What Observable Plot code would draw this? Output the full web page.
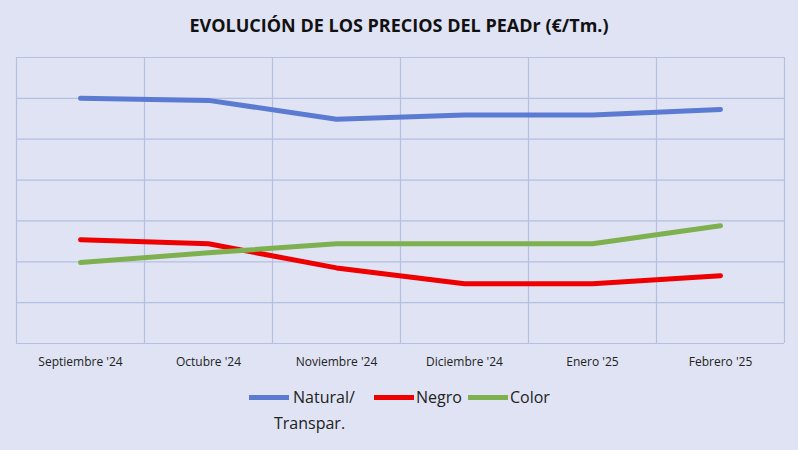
<!DOCTYPE html>
<html><head><meta charset="utf-8">
<script src="https://cdn.jsdelivr.net/npm/d3@7"></script>
<script src="https://cdn.jsdelivr.net/npm/@observablehq/plot@0.6"></script>
<style>
body{margin:0;background:#dfe3f3;font-family:"Open Sans",sans-serif;width:798px;height:450px;overflow:hidden;position:relative}
#title{height:45px;line-height:50px;text-align:center;font-weight:bold;font-size:18px;color:#111}
.leg{position:absolute;font-size:16px;color:#222}
.sw{position:absolute;height:5px;width:40px}
</style></head><body>
<div id="title">EVOLUCIÓN DE LOS PRECIOS DEL PEADr (€/Tm.)</div>
<div id="chart"></div>
<div class="sw" style="left:249px;top:395px;background:#5b7bd3"></div>
<div class="leg" style="left:293px;top:386px">Natural/</div>
<div class="leg" style="left:274px;top:412px">Transpar.</div>
<div class="sw" style="left:374px;top:395px;background:#ee0000"></div>
<div class="sw" style="left:468px;top:395px;background:#7fb04f"></div>
<div class="leg" style="left:416px;top:386px">Negro</div>
<div class="leg" style="left:510px;top:386px">Color</div>
<script>
const months=["Septiembre '24","Octubre '24","Noviembre '24","Diciembre '24","Enero '25","Febrero '25"];
const natural=[6.0,5.95,5.49,5.59,5.59,5.73];
const negro=[2.54,2.44,1.85,1.46,1.46,1.66];
const color=[1.98,2.22,2.44,2.44,2.44,2.88];
const series=[["Natural/Transpar.",natural,"#5b7bd3"],["Negro",negro,"#ee0000"],["Color",color,"#7fb04f"]];
const data=series.flatMap(([name,vals])=>vals.map((v,i)=>({name,i,v})));
const chart=Plot.plot({
  width:798,height:330,marginTop:12,marginBottom:32,marginLeft:16,marginRight:14,
  style:{background:"transparent",fontFamily:"Open Sans, sans-serif",fontSize:"12px",color:"#222"},
  x:{domain:[-0.5,5.5],ticks:d3.range(6),tickFormat:i=>months[i],tickSize:0,tickPadding:14,label:null},
  y:{domain:[0,7],axis:null},
  color:{domain:series.map(s=>s[0]),range:series.map(s=>s[2])},
  marks:[
    Plot.ruleY(d3.range(0,8),{stroke:"#b4c0e2",strokeWidth:1.2}),
    Plot.ruleX(d3.range(0,7).map(k=>k-0.5),{stroke:"#b4c0e2",strokeWidth:1.2}),
    Plot.line(data,{x:"i",y:"v",z:"name",stroke:"name",strokeWidth:5,curve:"linear"})
  ]
});
document.getElementById("chart").appendChild(chart);
</script>
</body></html>
